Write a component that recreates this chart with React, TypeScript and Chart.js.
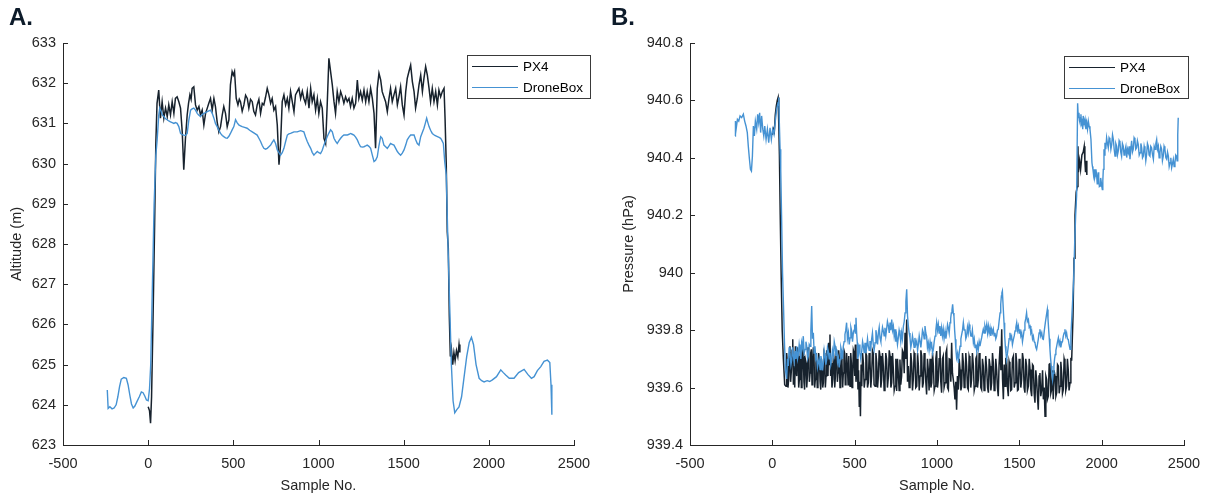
import React, { useEffect, useRef } from 'react';
import { Chart, registerables } from 'chart.js';

Chart.register(...registerables);

type Pt = [number, number];

// ---------- shared axis ticks ----------
const sampleTicks = [-500, 0, 500, 1000, 1500, 2000, 2500];
const altitudeTicks = [623, 624, 625, 626, 627, 628, 629, 630, 631, 632, 633];
const pressureTicks = [939.4, 939.6, 939.8, 940, 940.2, 940.4, 940.6, 940.8];
const seriesNames = ['PX4', 'DroneBox'];

// ---------- Panel A: altitude (m) ----------
const px4Altitude: Pt[] = [
  [0, 623.95], [8, 623.85], [14, 623.54], [20, 624.2], [28, 626.0], [38, 628.5], [45, 630.5], [52, 631.5],
  [62, 631.83], [72, 631.13], [82, 631.54], [92, 631.13], [102, 631.38], [112, 631.17], [121, 631.46],
  [131, 631.21], [141, 631.54], [151, 631.25], [160, 631.62], [170, 631.66], [180, 631.54], [190, 631.38],
  [200, 630.79], [209, 629.85], [219, 630.63], [229, 631.21], [237, 631.5], [245, 631.71], [252, 631.6],
  [258, 631.87], [268, 631.91], [278, 631.46], [288, 631.33], [298, 631.42], [307, 631.21], [317, 631.33],
  [327, 630.96], [337, 631.25], [347, 631.38], [356, 631.5], [366, 631.62], [376, 631.33], [386, 631.62],
  [395, 631.42], [405, 631.04], [415, 630.79], [425, 630.92], [435, 631.21], [444, 631.42], [454, 631.25],
  [464, 630.92], [474, 631.09], [483, 631.96], [493, 632.29], [500, 632.2], [507, 632.29], [517, 631.62],
  [527, 631.46], [535, 631.6], [542, 631.54], [552, 631.3], [562, 631.46], [572, 631.7], [582, 631.62],
  [591, 631.38], [601, 631.6], [611, 631.54], [620, 631.3], [630, 631.21], [640, 631.46], [650, 631.6],
  [660, 631.25], [670, 631.5], [679, 631.46], [689, 631.65], [699, 631.87], [709, 631.71], [719, 631.5],
  [728, 631.62], [738, 631.33], [748, 631.42], [758, 630.96], [768, 629.97], [777, 630.46], [787, 631.54],
  [797, 631.71], [807, 631.46], [817, 631.62], [826, 631.38], [836, 631.79], [846, 631.54], [856, 631.29],
  [865, 631.71], [875, 631.79], [885, 631.87], [895, 631.62], [905, 631.8], [914, 631.62], [924, 631.5],
  [934, 631.79], [944, 631.38], [954, 631.87], [963, 631.54], [973, 631.71], [983, 631.33], [993, 631.62],
  [1002, 631.25], [1012, 631.54], [1022, 631.38], [1032, 630.63], [1042, 630.5], [1051, 631.46],
  [1061, 632.62], [1071, 632.29], [1081, 631.96], [1091, 631.54], [1100, 631.25], [1110, 631.79],
  [1120, 631.54], [1130, 631.79], [1140, 631.66], [1149, 631.5], [1159, 631.66], [1169, 631.54],
  [1179, 631.62], [1188, 631.42], [1198, 631.62], [1208, 631.38], [1218, 631.5], [1228, 632.08],
  [1237, 631.62], [1247, 631.79], [1257, 631.58], [1267, 631.83], [1277, 631.54], [1286, 631.79],
  [1296, 631.54], [1306, 631.87], [1316, 631.62], [1326, 631.25], [1335, 630.38], [1345, 631.87],
  [1355, 632.25], [1365, 632.08], [1374, 631.79], [1384, 631.66], [1394, 631.54], [1404, 631.29],
  [1414, 631.62], [1423, 631.87], [1433, 631.54], [1443, 631.71], [1453, 631.87], [1463, 631.46],
  [1472, 631.66], [1482, 631.91], [1492, 631.46], [1502, 631.21], [1512, 631.79], [1521, 632.12],
  [1531, 632.29], [1541, 632.45], [1551, 632.04], [1561, 631.79], [1570, 631.38], [1580, 631.62],
  [1590, 631.96], [1600, 632.2], [1610, 631.79], [1619, 632.12], [1629, 632.41], [1639, 632.2],
  [1649, 631.87], [1658, 631.54], [1668, 631.87], [1678, 631.54], [1688, 631.79], [1698, 631.46],
  [1707, 631.83], [1717, 631.66], [1727, 631.79], [1737, 631.87], [1743, 631.13], [1750, 630.0],
  [1756, 628.3], [1762, 627.9], [1768, 626.2], [1774, 625.2], [1780, 625.4], [1788, 625.0], [1795, 625.3],
  [1802, 625.1], [1810, 625.35], [1818, 625.2], [1825, 625.5], [1830, 625.3],
];

const droneBoxAltitude: Pt[] = [
  [-240, 624.37], [-235, 623.91], [-225, 623.95], [-212, 623.9], [-200, 623.92], [-188, 624.0],
  [-178, 624.2], [-168, 624.45], [-158, 624.64], [-143, 624.68], [-128, 624.66], [-118, 624.5],
  [-108, 624.25], [-98, 624.02], [-88, 623.92], [-78, 623.97], [-66, 624.08], [-52, 624.2], [-40, 624.32],
  [-30, 624.3], [-20, 624.22], [-10, 624.12], [0, 624.1], [8, 624.4], [15, 625.0], [25, 627.0], [35, 629.0],
  [45, 630.2], [53, 630.6], [62, 631.2], [68, 631.38], [76, 631.3], [84, 631.2], [92, 631.17], [101, 631.12],
  [111, 631.09], [121, 631.06], [131, 631.04], [141, 631.02], [151, 631.0], [160, 631.02], [170, 631.0],
  [180, 630.92], [190, 630.75], [200, 630.72], [209, 630.71], [219, 630.7], [229, 630.75], [239, 631.09],
  [249, 631.33], [258, 631.36], [268, 631.38], [278, 631.33], [288, 631.25], [298, 631.2], [307, 631.17],
  [317, 631.22], [327, 631.25], [337, 631.27], [347, 631.29], [356, 631.31], [366, 631.33], [376, 631.25],
  [386, 631.13], [395, 631.0], [405, 630.92], [415, 630.83], [425, 630.75], [435, 630.7], [444, 630.67],
  [454, 630.64], [464, 630.63], [474, 630.68], [483, 630.75], [493, 630.84], [503, 630.92], [513, 631.09],
  [522, 631.02], [532, 630.96], [542, 630.94], [552, 630.92], [566, 630.9], [581, 630.88], [596, 630.83],
  [611, 630.79], [625, 630.75], [640, 630.71], [650, 630.63], [660, 630.55], [670, 630.45], [679, 630.38],
  [689, 630.36], [699, 630.38], [709, 630.42], [719, 630.46], [728, 630.53], [738, 630.59], [748, 630.5],
  [758, 630.34], [768, 630.27], [777, 630.21], [787, 630.27], [797, 630.38], [807, 630.55], [817, 630.71],
  [826, 630.74], [836, 630.75], [846, 630.77], [856, 630.79], [875, 630.79], [895, 630.82], [914, 630.79],
  [924, 630.66], [934, 630.55], [944, 630.46], [954, 630.38], [963, 630.28], [973, 630.21], [983, 630.26],
  [993, 630.3], [1002, 630.27], [1012, 630.25], [1022, 630.33], [1032, 630.46], [1042, 630.57],
  [1051, 630.67], [1061, 630.76], [1071, 630.84], [1081, 630.79], [1091, 630.63], [1100, 630.56],
  [1110, 630.5], [1120, 630.57], [1130, 630.63], [1140, 630.68], [1149, 630.71], [1159, 630.71],
  [1169, 630.71], [1179, 630.73], [1188, 630.75], [1198, 630.73], [1208, 630.71], [1218, 630.66],
  [1228, 630.59], [1237, 630.5], [1247, 630.42], [1257, 630.41], [1267, 630.42], [1277, 630.44],
  [1286, 630.46], [1296, 630.43], [1306, 630.38], [1316, 630.21], [1326, 630.05], [1335, 630.08],
  [1345, 630.17], [1355, 630.45], [1365, 630.67], [1374, 630.63], [1384, 630.46], [1394, 630.42],
  [1404, 630.38], [1414, 630.44], [1423, 630.5], [1433, 630.48], [1443, 630.46], [1453, 630.38],
  [1463, 630.3], [1472, 630.25], [1482, 630.21], [1492, 630.26], [1502, 630.34], [1512, 630.46],
  [1521, 630.59], [1531, 630.66], [1541, 630.71], [1551, 630.71], [1561, 630.71], [1570, 630.6],
  [1580, 630.5], [1590, 630.46], [1600, 630.67], [1610, 630.78], [1619, 630.88], [1627, 631.0],
  [1635, 631.13], [1642, 631.02], [1649, 630.92], [1658, 630.83], [1668, 630.75], [1683, 630.7],
  [1698, 630.67], [1708, 630.65], [1717, 630.63], [1725, 630.57], [1733, 630.5], [1741, 630.05],
  [1750, 629.72], [1760, 628.0], [1770, 626.5], [1780, 625.0], [1790, 624.1], [1800, 623.8], [1812, 623.88],
  [1825, 623.95], [1840, 624.2], [1855, 624.7], [1870, 625.2], [1885, 625.55], [1898, 625.68], [1910, 625.5],
  [1925, 625.0], [1943, 624.66], [1958, 624.6], [1972, 624.57], [1990, 624.6], [2005, 624.58], [2021, 624.62],
  [2045, 624.7], [2070, 624.87], [2085, 624.8], [2099, 624.74], [2120, 624.66], [2148, 624.66], [2175, 624.8],
  [2207, 624.88], [2230, 624.75], [2250, 624.66], [2266, 624.7], [2285, 624.85], [2305, 624.95],
  [2324, 625.08], [2344, 625.11], [2358, 625.05], [2365, 624.5], [2370, 623.75],
];

// ---------- Panel B: pressure (hPa) ----------
const px4Pressure: Pt[] = [
  [0, 940.48], [6, 940.5], [12, 940.49], [18, 940.55], [24, 940.58], [30, 940.6], [35, 940.61], [39, 940.52],
  [43, 940.41], [48, 940.2], [54, 939.98], [60, 939.8], [67, 939.7], [75, 939.61], [83, 939.605],
  [87, 939.72], [91, 939.686], [95, 939.6], [99, 939.628], [103, 939.7], [107, 939.744], [111, 939.62],
  [116, 939.663], [120, 939.73], [124, 939.768], [128, 939.61], [132, 939.675], [136, 939.6], [140, 939.744],
  [144, 939.66], [148, 939.64], [152, 939.74], [156, 939.71], [160, 939.6], [164, 939.628], [168, 939.7],
  [172, 939.733], [176, 939.6], [180, 939.651], [184, 939.74], [188, 939.71], [192, 939.62], [196, 939.593],
  [200, 939.7], [205, 939.686], [209, 939.6], [213, 939.64], [217, 939.74], [221, 939.721], [225, 939.62],
  [229, 939.651], [233, 939.72], [237, 939.733], [241, 939.61], [245, 939.675], [249, 939.74], [253, 939.71],
  [257, 939.6], [261, 939.628], [265, 939.72], [269, 939.675], [273, 939.6], [277, 939.617], [281, 939.72],
  [286, 939.698], [290, 939.62], [294, 939.593], [298, 939.7], [302, 939.663], [306, 939.6], [310, 939.617],
  [314, 939.72], [318, 939.71], [322, 939.6], [326, 939.64], [330, 939.73], [334, 939.698], [338, 939.64],
  [342, 939.756], [346, 939.68], [350, 939.785], [354, 939.64], [358, 939.686], [362, 939.6], [367, 939.628],
  [371, 939.72], [375, 939.698], [379, 939.6], [383, 939.64], [387, 939.73], [391, 939.721], [395, 939.62],
  [399, 939.651], [403, 939.73], [407, 939.698], [411, 939.6], [415, 939.628], [419, 939.72], [423, 939.686],
  [427, 939.6], [431, 939.651], [435, 939.73], [439, 939.721], [443, 939.61], [447, 939.628], [451, 939.72],
  [456, 939.675], [460, 939.61], [464, 939.71], [468, 939.63], [472, 939.605], [476, 939.72], [480, 939.686],
  [484, 939.6], [488, 939.64], [492, 939.73], [496, 939.721], [500, 939.64], [504, 939.75], [508, 939.62],
  [512, 939.651], [516, 939.7], [520, 939.593], [524, 939.66], [528, 939.535], [531, 939.62], [535, 939.5],
  [539, 939.68], [543, 939.605], [548, 939.72], [553, 939.686], [558, 939.6], [563, 939.628], [568, 939.72],
  [573, 939.71], [578, 939.6], [583, 939.617], [588, 939.72], [593, 939.698], [598, 939.6], [603, 939.64],
  [608, 939.73], [613, 939.721], [618, 939.61], [624, 939.605], [629, 939.72], [634, 939.686], [639, 939.6],
  [644, 939.64], [649, 939.73], [654, 939.71], [659, 939.6], [664, 939.628], [669, 939.72], [674, 939.675],
  [679, 939.59], [684, 939.617], [689, 939.72], [694, 939.698], [699, 939.6], [705, 939.64], [710, 939.73],
  [715, 939.71], [720, 939.6], [725, 939.617], [730, 939.72], [735, 939.663], [740, 939.59], [745, 939.605],
  [750, 939.7], [755, 939.588], [760, 939.7], [765, 939.651], [770, 939.59], [775, 939.698], [780, 939.61],
  [785, 939.64], [790, 939.73], [796, 939.721], [801, 939.65], [806, 939.791], [811, 939.7], [816, 939.837],
  [821, 939.62], [826, 939.675], [831, 939.6], [836, 939.605], [841, 939.72], [846, 939.686], [851, 939.59],
  [856, 939.628], [861, 939.72], [866, 939.71], [871, 939.6], [877, 939.605], [882, 939.72], [887, 939.675],
  [892, 939.59], [897, 939.64], [902, 939.73], [907, 939.71], [912, 939.6], [917, 939.617], [922, 939.72],
  [927, 939.675], [932, 939.62], [937, 939.576], [942, 939.7], [947, 939.663], [952, 939.59], [958, 939.7],
  [963, 939.6], [968, 939.617], [973, 939.72], [978, 939.675], [983, 939.59], [988, 939.605], [993, 939.7],
  [998, 939.727], [1003, 939.6], [1008, 939.628], [1013, 939.7], [1018, 939.744], [1023, 939.62],
  [1028, 939.582], [1033, 939.7], [1038, 939.71], [1043, 939.6], [1049, 939.617], [1054, 939.72],
  [1059, 939.733], [1064, 939.6], [1069, 939.593], [1074, 939.7], [1079, 939.698], [1084, 939.62],
  [1089, 939.756], [1094, 939.65], [1099, 939.628], [1104, 939.6], [1109, 939.559], [1114, 939.62],
  [1119, 939.523], [1124, 939.64], [1130, 939.593], [1135, 939.7], [1140, 939.663], [1145, 939.59],
  [1150, 939.605], [1155, 939.72], [1160, 939.686], [1165, 939.6], [1170, 939.617], [1175, 939.72],
  [1180, 939.675], [1185, 939.6], [1190, 939.593], [1195, 939.71], [1200, 939.698], [1205, 939.6],
  [1210, 939.628], [1215, 939.72], [1221, 939.675], [1226, 939.59], [1231, 939.605], [1236, 939.7],
  [1241, 939.71], [1246, 939.6], [1251, 939.628], [1256, 939.72], [1261, 939.698], [1266, 939.6],
  [1271, 939.593], [1276, 939.7], [1281, 939.675], [1286, 939.59], [1291, 939.617], [1296, 939.71],
  [1302, 939.663], [1307, 939.6], [1312, 939.582], [1317, 939.7], [1322, 939.675], [1327, 939.59],
  [1332, 939.617], [1337, 939.72], [1342, 939.686], [1347, 939.59], [1352, 939.605], [1357, 939.7],
  [1362, 939.663], [1367, 939.6], [1372, 939.57], [1377, 939.68], [1383, 939.744], [1388, 939.66],
  [1393, 939.803], [1398, 939.63], [1403, 939.559], [1408, 939.68], [1413, 939.605], [1418, 939.7],
  [1423, 939.698], [1428, 939.6], [1433, 939.57], [1438, 939.69], [1443, 939.675], [1448, 939.59],
  [1453, 939.593], [1458, 939.7], [1464, 939.71], [1469, 939.6], [1474, 939.617], [1479, 939.72],
  [1484, 939.686], [1489, 939.59], [1494, 939.593], [1499, 939.7], [1504, 939.675], [1509, 939.6],
  [1514, 939.628], [1519, 939.72], [1524, 939.698], [1529, 939.6], [1534, 939.582], [1539, 939.7],
  [1544, 939.675], [1549, 939.59], [1555, 939.605], [1560, 939.7], [1565, 939.663], [1570, 939.59],
  [1575, 939.57], [1580, 939.68], [1585, 939.675], [1590, 939.58], [1595, 939.547], [1600, 939.66],
  [1605, 939.628], [1610, 939.57], [1615, 939.523], [1620, 939.64], [1625, 939.651], [1630, 939.57],
  [1636, 939.593], [1641, 939.66], [1646, 939.559], [1651, 939.6], [1656, 939.5], [1661, 939.64],
  [1666, 939.628], [1671, 939.56], [1676, 939.57], [1681, 939.68], [1686, 939.686], [1691, 939.58],
  [1696, 939.593], [1701, 939.66], [1706, 939.559], [1711, 939.66], [1717, 939.64], [1722, 939.57],
  [1727, 939.582], [1732, 939.68], [1737, 939.675], [1742, 939.58], [1747, 939.605], [1752, 939.69],
  [1757, 939.651], [1762, 939.58], [1767, 939.593], [1772, 939.7], [1777, 939.686], [1782, 939.59],
  [1787, 939.605], [1792, 939.7], [1797, 939.663], [1802, 939.59], [1808, 939.617], [1813, 939.7],
  [1818, 939.698], [1826, 939.85], [1832, 940.05], [1838, 940.2], [1845, 940.28], [1852, 940.3],
  [1856, 940.44], [1859, 940.35], [1866, 940.39], [1872, 940.36], [1880, 940.41], [1888, 940.42],
  [1894, 940.44], [1898, 940.39], [1902, 940.35], [1906, 940.39], [1910, 940.34],
];

const droneBoxPressure: Pt[] = [
  [-226, 940.476], [-224, 940.528], [-220, 940.5], [-212, 940.534], [-204, 940.528], [-196, 940.546],
  [-186, 940.54], [-176, 940.552], [-168, 940.528], [-160, 940.511], [-152, 940.488], [-146, 940.441],
  [-139, 940.395], [-133, 940.36], [-127, 940.354], [-121, 940.406], [-115, 940.511], [-109, 940.476],
  [-103, 940.528], [-95, 940.5], [-89, 940.552], [-83, 940.523], [-77, 940.557], [-71, 940.488],
  [-65, 940.546], [-58, 940.5], [-52, 940.476], [-46, 940.511], [-38, 940.464], [-30, 940.5], [-22, 940.453],
  [-14, 940.505], [-6, 940.464], [2, 940.5], [10, 940.482], [18, 940.528], [26, 940.569], [35, 940.592],
  [39, 940.61], [43, 940.511], [47, 940.43], [51, 940.36], [56, 940.2], [62, 940.0], [68, 939.88],
  [74, 939.75], [80, 939.66], [87, 939.63], [92, 939.7], [97, 939.675], [102, 939.74], [107, 939.721],
  [113, 939.68], [118, 939.698], [123, 939.74], [128, 939.71], [133, 939.69], [138, 939.727], [143, 939.7],
  [148, 939.744], [153, 939.7], [158, 939.715], [163, 939.75], [168, 939.727], [173, 939.7], [178, 939.756],
  [183, 939.74], [188, 939.779], [193, 939.72], [199, 939.733], [204, 939.76], [209, 939.744], [214, 939.7],
  [219, 939.71], [224, 939.75], [229, 939.744], [234, 939.8], [239, 939.884], [244, 939.77], [249, 939.791],
  [254, 939.72], [259, 939.744], [264, 939.7], [269, 939.71], [274, 939.67], [279, 939.686], [284, 939.7],
  [290, 939.663], [295, 939.71], [300, 939.692], [305, 939.66], [310, 939.686], [315, 939.73], [320, 939.71],
  [325, 939.68], [330, 939.698], [335, 939.74], [340, 939.727], [345, 939.7], [350, 939.721], [355, 939.68],
  [360, 939.698], [365, 939.73], [371, 939.71], [376, 939.76], [381, 939.744], [386, 939.71], [391, 939.733],
  [396, 939.69], [401, 939.704], [406, 939.67], [411, 939.698], [416, 939.74], [421, 939.727], [426, 939.7],
  [431, 939.744], [436, 939.76], [441, 939.785], [446, 939.8], [451, 939.826], [456, 939.77], [462, 939.791],
  [467, 939.75], [472, 939.773], [477, 939.81], [482, 939.797], [487, 939.76], [492, 939.791], [496, 939.8],
  [500, 939.82], [504, 939.79], [508, 939.843], [512, 939.79], [516, 939.756], [519, 939.7], [522, 939.71],
  [527, 939.75], [532, 939.721], [537, 939.7], [543, 939.727], [548, 939.76], [553, 939.744], [558, 939.72],
  [563, 939.756], [568, 939.72], [573, 939.739], [578, 939.77], [583, 939.744], [588, 939.73], [593, 939.762],
  [598, 939.74], [603, 939.768], [608, 939.79], [613, 939.75], [618, 939.73], [624, 939.756], [629, 939.8],
  [634, 939.779], [639, 939.75], [644, 939.791], [649, 939.81], [654, 939.773], [659, 939.76], [664, 939.785],
  [669, 939.81], [674, 939.797], [679, 939.78], [684, 939.808], [689, 939.78], [694, 939.803], [699, 939.83],
  [705, 939.814], [710, 939.79], [715, 939.826], [720, 939.8], [725, 939.837], [730, 939.8], [735, 939.814],
  [740, 939.78], [745, 939.803], [750, 939.76], [755, 939.779], [760, 939.75], [765, 939.773], [770, 939.8],
  [775, 939.785], [780, 939.76], [785, 939.791], [790, 939.77], [796, 939.814], [801, 939.83], [806, 939.86],
  [811, 939.9], [816, 939.942], [821, 939.85], [826, 939.814], [831, 939.79], [836, 939.773], [841, 939.74],
  [846, 939.756], [851, 939.78], [856, 939.762], [861, 939.74], [866, 939.773], [871, 939.75], [877, 939.762],
  [882, 939.73], [887, 939.75], [892, 939.78], [897, 939.762], [902, 939.74], [907, 939.768], [912, 939.8],
  [917, 939.791], [922, 939.77], [927, 939.814], [932, 939.79], [937, 939.779], [942, 939.74], [947, 939.756],
  [952, 939.73], [958, 939.76], [963, 939.74], [968, 939.75], [973, 939.72], [978, 939.733], [983, 939.76],
  [988, 939.779], [993, 939.8], [998, 939.826], [1003, 939.8], [1008, 939.82], [1013, 939.79],
  [1018, 939.814], [1023, 939.78], [1028, 939.808], [1033, 939.78], [1038, 939.803], [1043, 939.77],
  [1049, 939.797], [1054, 939.77], [1059, 939.791], [1064, 939.82], [1069, 939.808], [1074, 939.79],
  [1079, 939.826], [1083, 939.84], [1087, 939.86], [1091, 939.87], [1095, 939.89], [1099, 939.86],
  [1103, 939.849], [1107, 939.8], [1111, 939.768], [1115, 939.73], [1119, 939.704], [1125, 939.72],
  [1130, 939.686], [1135, 939.72], [1140, 939.744], [1145, 939.77], [1150, 939.785], [1155, 939.8],
  [1160, 939.826], [1165, 939.8], [1170, 939.803], [1175, 939.77], [1180, 939.779], [1185, 939.81],
  [1190, 939.791], [1195, 939.82], [1200, 939.803], [1205, 939.78], [1210, 939.779], [1215, 939.8],
  [1221, 939.756], [1226, 939.77], [1231, 939.739], [1236, 939.75], [1241, 939.727], [1246, 939.75],
  [1251, 939.733], [1256, 939.76], [1261, 939.744], [1266, 939.76], [1271, 939.773], [1276, 939.79],
  [1281, 939.803], [1286, 939.79], [1291, 939.814], [1296, 939.8], [1302, 939.82], [1307, 939.79],
  [1312, 939.814], [1317, 939.79], [1322, 939.808], [1327, 939.78], [1332, 939.803], [1337, 939.79],
  [1342, 939.803], [1347, 939.78], [1352, 939.791], [1357, 939.77], [1362, 939.779], [1367, 939.8],
  [1372, 939.803], [1377, 939.83], [1383, 939.86], [1387, 939.89], [1391, 939.919], [1394, 939.93],
  [1397, 939.936], [1402, 939.88], [1407, 939.826], [1411, 939.78], [1415, 939.744], [1419, 939.72],
  [1423, 939.698], [1428, 939.72], [1433, 939.744], [1438, 939.77], [1443, 939.791], [1448, 939.77],
  [1453, 939.779], [1458, 939.75], [1464, 939.768], [1469, 939.78], [1474, 939.797], [1479, 939.81],
  [1484, 939.826], [1489, 939.8], [1494, 939.814], [1499, 939.79], [1504, 939.803], [1509, 939.78],
  [1514, 939.791], [1519, 939.76], [1524, 939.779], [1529, 939.8], [1534, 939.826], [1539, 939.84],
  [1544, 939.86], [1549, 939.83], [1555, 939.837], [1560, 939.81], [1565, 939.814], [1570, 939.79],
  [1575, 939.797], [1580, 939.77], [1585, 939.779], [1590, 939.76], [1595, 939.756], [1600, 939.74],
  [1605, 939.733], [1610, 939.75], [1615, 939.768], [1620, 939.79], [1625, 939.803], [1630, 939.78],
  [1636, 939.791], [1641, 939.77], [1646, 939.768], [1652, 939.8], [1658, 939.826], [1664, 939.85],
  [1670, 939.872], [1674, 939.84], [1678, 939.803], [1682, 939.77], [1686, 939.733], [1690, 939.7],
  [1694, 939.675], [1698, 939.65], [1702, 939.628], [1706, 939.65], [1710, 939.675], [1714, 939.7],
  [1718, 939.715], [1722, 939.73], [1727, 939.744], [1732, 939.76], [1737, 939.773], [1742, 939.75],
  [1747, 939.762], [1752, 939.74], [1757, 939.756], [1762, 939.76], [1767, 939.779], [1772, 939.79],
  [1777, 939.803], [1782, 939.78], [1787, 939.791], [1792, 939.77], [1797, 939.768], [1802, 939.75],
  [1808, 939.733], [1813, 939.78], [1818, 939.837], [1824, 939.907], [1830, 939.977], [1836, 940.1],
  [1842, 940.2], [1848, 940.27], [1854, 940.59], [1858, 940.54], [1862, 940.557], [1865, 940.53],
  [1868, 940.523], [1871, 940.54], [1874, 940.552], [1878, 940.52], [1882, 940.528], [1885, 940.5],
  [1888, 940.546], [1894, 940.52], [1899, 940.534], [1904, 940.5], [1909, 940.523], [1914, 940.5],
  [1919, 940.528], [1924, 940.51], [1929, 940.5], [1935, 940.464], [1941, 940.383], [1944, 940.37],
  [1947, 940.36], [1951, 940.34], [1955, 940.36], [1958, 940.33], [1961, 940.337], [1965, 940.36],
  [1969, 940.343], [1973, 940.31], [1976, 940.32], [1979, 940.35], [1982, 940.331], [1986, 940.3],
  [1990, 940.302], [1994, 940.33], [1998, 940.314], [2001, 940.3], [2004, 940.29], [2007, 940.32],
  [2010, 940.36], [2014, 940.43], [2017, 940.41], [2020, 940.453], [2025, 940.43], [2030, 940.47],
  [2035, 940.45], [2040, 940.435], [2045, 940.47], [2050, 940.464], [2056, 940.43], [2061, 940.447],
  [2066, 940.48], [2071, 940.464], [2076, 940.43], [2081, 940.406], [2086, 940.45], [2091, 940.441],
  [2096, 940.41], [2101, 940.424], [2106, 940.46], [2111, 940.453], [2116, 940.42], [2121, 940.406],
  [2126, 940.45], [2131, 940.441], [2136, 940.41], [2141, 940.424], [2147, 940.44], [2152, 940.401],
  [2157, 940.43], [2162, 940.418], [2167, 940.44], [2172, 940.395], [2177, 940.43], [2182, 940.459],
  [2187, 940.42], [2192, 940.43], [2197, 940.47], [2202, 940.464], [2207, 940.43], [2212, 940.435],
  [2217, 940.46], [2222, 940.447], [2228, 940.41], [2233, 940.418], [2238, 940.45], [2243, 940.435],
  [2248, 940.4], [2253, 940.406], [2258, 940.44], [2263, 940.424], [2268, 940.39], [2273, 940.412],
  [2278, 940.45], [2283, 940.441], [2288, 940.41], [2293, 940.406], [2298, 940.44], [2303, 940.435],
  [2309, 940.41], [2314, 940.395], [2319, 940.44], [2324, 940.43], [2329, 940.45], [2334, 940.464],
  [2339, 940.43], [2344, 940.441], [2349, 940.4], [2354, 940.418], [2359, 940.44], [2364, 940.43],
  [2369, 940.39], [2374, 940.406], [2379, 940.44], [2384, 940.43], [2390, 940.4], [2395, 940.395],
  [2400, 940.42], [2405, 940.406], [2410, 940.37], [2415, 940.383], [2420, 940.4], [2425, 940.366],
  [2430, 940.38], [2435, 940.395], [2440, 940.37], [2445, 940.383], [2450, 940.41], [2455, 940.406],
  [2458, 940.39], [2461, 940.412], [2463, 940.48], [2465, 940.54],
];

// ---------- styling ----------
const AXIS_COLOR = '#262626';
const FONT_FAMILY = "'Liberation Sans', Arial, Helvetica, sans-serif";
const PX4_COLOR = '#17222d';
const DRONEBOX_COLOR = '#4592d3';

const matlabPlugin = {
  id: 'matlabLook',
  afterDraw(chart: any, _args: any, opts: any) {
    const ctx = chart.ctx as CanvasRenderingContext2D;
    const { left, bottom } = chart.chartArea;
    const xs = chart.scales.x;
    const ys = chart.scales.y;
    ctx.save();
    ctx.strokeStyle = AXIS_COLOR;
    ctx.lineWidth = 1;
    ctx.beginPath();
    xs.ticks.forEach((t: any) => {
      const x = Math.round(xs.getPixelForValue(t.value)) + 0.5;
      ctx.moveTo(x, bottom);
      ctx.lineTo(x, bottom - 5);
    });
    ys.ticks.forEach((t: any) => {
      const y = Math.round(ys.getPixelForValue(t.value)) + 0.5;
      ctx.moveTo(left, y);
      ctx.lineTo(left + 5, y);
    });
    ctx.stroke();
    const b = opts.box;
    if (b) {
      ctx.fillStyle = '#ffffff';
      ctx.fillRect(b.x, b.y, b.w, b.h);
      ctx.strokeStyle = '#3a3a3a';
      ctx.lineWidth = 1;
      ctx.strokeRect(b.x + 0.5, b.y + 0.5, b.w, b.h);
      chart.data.datasets.forEach((ds: any, i: number) => {
        const y = b.y + 11.5 + i * 21;
        ctx.strokeStyle = ds.borderColor;
        ctx.lineWidth = 1.2;
        ctx.beginPath();
        ctx.moveTo(b.x + 5, y);
        ctx.lineTo(b.x + 51, y);
        ctx.stroke();
        ctx.fillStyle = '#000000';
        ctx.font = `13.5px ${FONT_FAMILY}`;
        ctx.textBaseline = 'middle';
        ctx.textAlign = 'left';
        ctx.fillText(ds.label, b.x + 56, y + 0.5);
      });
    }
    ctx.restore();
  },
};

function buildConfig(
  blackSeries: Pt[],
  blueSeries: Pt[],
  yTicks: number[],
  yTitle: string,
  yWidth: number,
  padRight: number,
  titlePad: number,
  legendBox: { x: number; y: number; w: number; h: number },
): any {
  const tickFont = { family: FONT_FAMILY, size: 14.5 };
  return {
    type: 'line',
    data: {
      datasets: [
        {
          label: seriesNames[0],
          data: blackSeries.map(([x, y]) => ({ x, y })),
          borderColor: PX4_COLOR,
          borderWidth: 1.5,
          pointRadius: 0,
          tension: 0,
          fill: false,
          order: 1,
        },
        {
          label: seriesNames[1],
          data: blueSeries.map(([x, y]) => ({ x, y })),
          borderColor: DRONEBOX_COLOR,
          borderWidth: 1.4,
          pointRadius: 0,
          tension: 0,
          fill: false,
          order: 0,
        },
      ],
    },
    options: {
      animation: false,
      responsive: false,
      maintainAspectRatio: false,
      events: [],
      layout: { padding: { left: 0, top: 43, right: padRight, bottom: 0 } },
      plugins: {
        legend: { display: false },
        tooltip: { enabled: false },
        matlabLook: { box: legendBox },
      },
      scales: {
        x: {
          type: 'linear',
          min: sampleTicks[0],
          max: sampleTicks[sampleTicks.length - 1],
          afterBuildTicks: (s: any) => {
            s.ticks = sampleTicks.map((v) => ({ value: v }));
          },
          afterFit: (s: any) => {
            s.height = 53;
          },
          grid: { display: false, drawTicks: false },
          border: { display: true, color: AXIS_COLOR, width: 1 },
          ticks: {
            autoSkip: false,
            maxRotation: 0,
            padding: 10,
            color: AXIS_COLOR,
            font: tickFont,
            callback: (v: any) => String(v),
          },
          title: {
            display: true,
            text: 'Sample No.',
            color: AXIS_COLOR,
            font: { family: FONT_FAMILY, size: 14.5 },
            padding: { top: 0, bottom: 3 },
          },
        },
        y: {
          type: 'linear',
          min: yTicks[0],
          max: yTicks[yTicks.length - 1],
          afterBuildTicks: (s: any) => {
            s.ticks = yTicks.map((v) => ({ value: v }));
          },
          afterFit: (s: any) => {
            s.width = yWidth;
          },
          grid: { display: false, drawTicks: false },
          border: { display: true, color: AXIS_COLOR, width: 1 },
          ticks: {
            autoSkip: false,
            padding: 7,
            color: AXIS_COLOR,
            font: tickFont,
            callback: (v: any) => String(Number(Number(v).toFixed(1))),
          },
          title: {
            display: true,
            text: yTitle,
            color: AXIS_COLOR,
            font: { family: FONT_FAMILY, size: 14.5 },
            padding: { top: titlePad, bottom: 0 },
          },
        },
      },
    },
    plugins: [matlabPlugin],
  };
}

function Panel(props: { left: number; width: number; config: any }) {
  const ref = useRef<HTMLCanvasElement | null>(null);
  useEffect(() => {
    if (!ref.current) return;
    const chart = new Chart(ref.current, props.config);
    return () => chart.destroy();
  }, []);
  return (
    <canvas
      ref={ref}
      width={props.width}
      height={498}
      style={{ position: 'absolute', left: props.left, top: 0, width: props.width, height: 498 }}
    />
  );
}

const panelLabelStyle: React.CSSProperties = {
  position: 'absolute',
  top: 5,
  fontFamily: FONT_FAMILY,
  fontWeight: 'bold',
  fontSize: 24,
  lineHeight: '24px',
  color: '#0d1b2a',
};

export default function App() {
  const configA = buildConfig(
    px4Altitude,
    droneBoxAltitude,
    altitudeTicks,
    'Altitude (m)',
    63,
    613 - 574,
    8,
    { x: 467, y: 55, w: 123, h: 43 },
  );
  const configB = buildConfig(
    px4Pressure,
    droneBoxPressure,
    pressureTicks,
    'Pressure (hPa)',
    77,
    613 - 571,
    7,
    { x: 451, y: 56, w: 124, h: 42 },
  );
  return (
    <div style={{ position: 'absolute', left: 0, top: 0, width: 1226, height: 498, background: '#ffffff' }}>
      <Panel left={0} width={613} config={configA} />
      <Panel left={613} width={613} config={configB} />
      <div style={{ ...panelLabelStyle, left: 9 }}>A.</div>
      <div style={{ ...panelLabelStyle, left: 611 }}>B.</div>
    </div>
  );
}
